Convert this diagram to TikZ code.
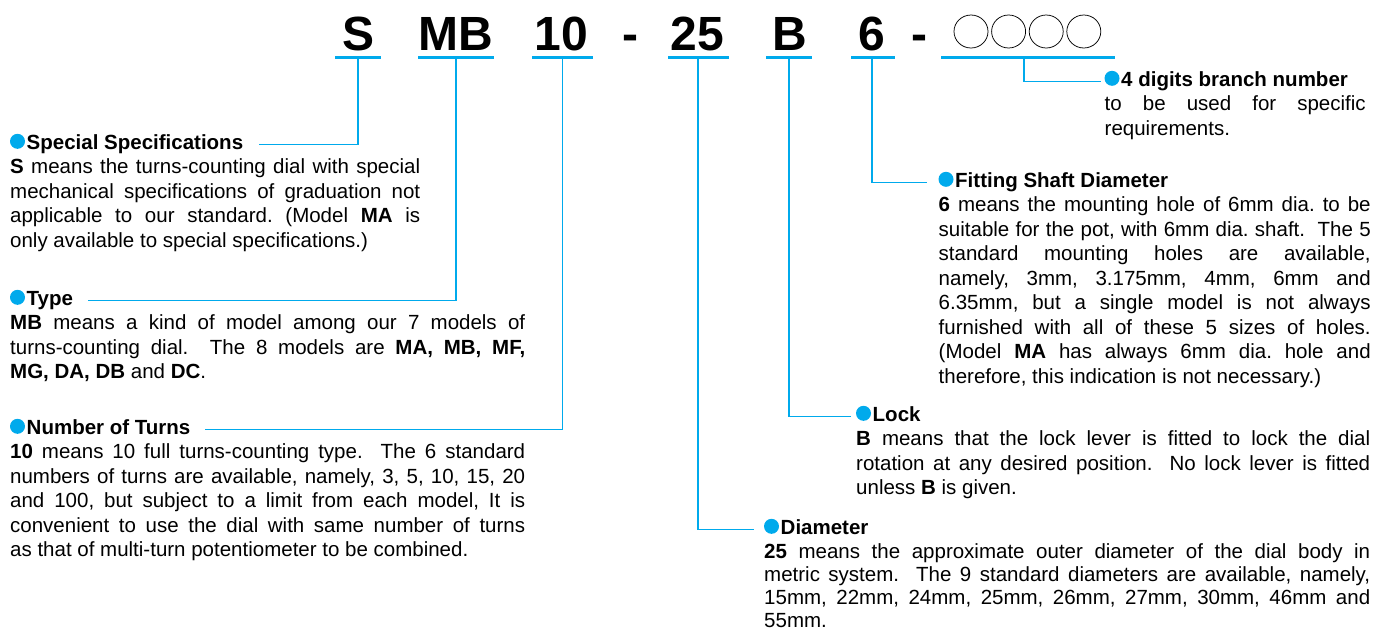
\documentclass[tikz,border=0pt]{standalone}
\usepackage{fontspec}
\setmainfont{Liberation Sans}
\usetikzlibrary{calc,shapes.geometric}
\definecolor{cyanblue}{RGB}{0,170,236}
\frenchspacing
\begin{document}
\begin{tikzpicture}[x=1pt,y=-1pt,
 code/.style={font=\fontsize{48}{48}\selectfont\bfseries, inner sep=0, anchor=base},
 uline/.style={fill=cyanblue, inner sep=0, minimum height=3.5pt, anchor=center},
 conn/.style={draw=cyanblue, line width=1.1pt},
 bul/.style={circle, fill=cyanblue, inner sep=0, minimum size=15pt, anchor=south},
 head/.style={font=\fontsize{20.5}{24.5}\selectfont\bfseries, inner sep=0, anchor=base west},
 body/.style={font=\fontsize{20.5}{24.5}\selectfont, inner sep=0, anchor=base west, align=justify,
   execute at begin node={\frenchspacing\tolerance=10000\hbadness=10000\hfuzz=3pt}},
 digit/.style={ellipse, draw, line width=0.75pt, minimum width=34pt, minimum height=33pt, inner sep=0}
]
\useasboundingbox (0,0) rectangle (1375,630);
\clip (0,0) rectangle (1375,630);

% code line
\node[code] (cS) at (358.5,50) {S};
\node[code] (cMB) at (455.5,50) {MB};
\node[code] (c10) at (561.5,50) {10};
\node[code] (cd1) at (630,50) {-};
\node[code] (c25) at (697.5,50) {25};
\node[code] (cB) at (789.5,50) {B};
\node[code] (c6) at (871.5,50) {6};
\node[code] (cd2) at (919,50) {-};
\foreach \i/\x in {1/971,2/1008.6,3/1046.2,4/1083.8}
  \node[digit] (o\i) at (\x,31.5) {};

% underlines
\node[uline, minimum width=46pt] (u1) at (358,57.5) {};
\node[uline, minimum width=76pt] (u2) at (456,57.5) {};
\node[uline, minimum width=61pt] (u3) at (562.5,57.5) {};
\node[uline, minimum width=61pt] (u4) at (698.5,57.5) {};
\node[uline, minimum width=46pt] (u5) at (789,57.5) {};
\node[uline, minimum width=44pt] (u6) at (873,57.5) {};
\node[uline, minimum width=174pt] (u7) at (1028,57.5) {};

% block 1: Special Specifications
\node[bul] (b1) at (17.5,149) {};
\node[head] (h1) at ($(b1.south)+(9,0)$) {Special Specifications};
\node[body, text width=410pt] (t1) at ($(b1.south)+(-7.5,24.5)$) {\textbf{S} means the turns-counting dial with special\linebreak
mechanical specifications of graduation not\linebreak
applicable to our standard. (Model \textbf{MA} is\linebreak
only available to special specifications.)};

% block 2: Type
\node[bul] (b2) at (17.5,305) {};
\node[head] (h2) at ($(b2.south)+(9,0)$) {Type};
\node[body, text width=515pt] (t2) at ($(b2.south)+(-7.5,24.5)$) {\textbf{MB} means a kind of model among our 7 models of\linebreak
turns-counting dial.~ The 8 models are \textbf{MA, MB, MF,}\linebreak
\textbf{MG, DA, DB} and \textbf{DC}.};

% block 3: Number of Turns
\node[bul] (b3) at (17.5,434) {};
\node[head] (h3) at ($(b3.south)+(9,0)$) {Number of Turns};
\node[body, text width=515pt] (t3) at ($(b3.south)+(-7.5,24.5)$) {\textbf{10} means 10 full turns-counting type.~ The 6 standard\linebreak
numbers of turns are available, namely, 3, 5, 10, 15, 20\linebreak
and 100, but subject to a limit from each model, It is\linebreak
convenient to use the dial with same number of turns\linebreak
as that of multi-turn potentiometer to be combined.};

% block 4: branch number
\node[bul] (b4) at (1112,86) {};
\node[head] (h4) at ($(b4.south)+(9,0)$) {4 digits branch number};
\node[body, text width=261pt] (t4) at ($(b4.south)+(-7.5,24.5)$) {to be used for specific\linebreak
requirements.};

% block 5: Fitting Shaft Diameter
\node[bul] (b5) at (946,187) {};
\node[head] (h5) at ($(b5.south)+(9,0)$) {Fitting Shaft Diameter};
\node[body, text width=432pt] (t5) at ($(b5.south)+(-7.5,24.5)$) {\textbf{6} means the mounting hole of 6mm dia. to be\linebreak
suitable for the pot, with 6mm dia. shaft.~ The 5\linebreak
standard mounting holes are available,\linebreak
namely, 3mm, 3.175mm, 4mm, 6mm and\linebreak
6.35mm, but a single model is not always\linebreak
furnished with all of these 5 sizes of holes.\linebreak
(Model \textbf{MA} has always 6mm dia. hole and\linebreak
therefore, this indication is not necessary.)};

% block 6: Lock
\node[bul] (b6) at (863.5,421) {};
\node[head] (h6) at ($(b6.south)+(9,0)$) {Lock};
\node[body, text width=514pt] (t6) at ($(b6.south)+(-7.5,24.5)$) {\textbf{B} means that the lock lever is fitted to lock the dial\linebreak
rotation at any desired position.~ No lock lever is fitted\linebreak
unless \textbf{B} is given.};

% block 7: Diameter
\node[bul] (b7) at (771.5,534) {};
\node[head] (h7) at ($(b7.south)+(9,0)$) {Diameter};
\node[body, text width=606pt, font=\fontsize{20.5}{23}\selectfont] (t7) at ($(b7.south)+(-7.5,24.5)$) {\textbf{25} means the approximate outer diameter of the dial body in\linebreak
metric system.~ The 9 standard diameters are available, namely,\linebreak
15mm, 22mm, 24mm, 25mm, 26mm, 27mm, 30mm, 46mm and\linebreak
55mm.};

% connectors
\draw[conn] (u1.south) |- ($(h1.base east)+(16,-4.5)$);
\draw[conn] (u2.south) |- ($(h2.base east)+(15,-4.5)$);
\draw[conn] (u3.south) |- ($(h3.base east)+(14,-4.5)$);
\draw[conn] ([xshift=-4pt]u7.south) |- ($(b4.south)+(-11.5,-4.5)$);
\draw[conn] ([xshift=-1pt]u6.south) |- ($(b5.south)+(-19.5,-4.5)$);
\draw[conn] (u5.south) |- ($(b6.south)+(-12.5,-4.5)$);
\draw[conn] ([xshift=-0.5pt]u4.south) |- ($(b7.south)+(-17.5,-4.5)$);
\end{tikzpicture}
\end{document}
